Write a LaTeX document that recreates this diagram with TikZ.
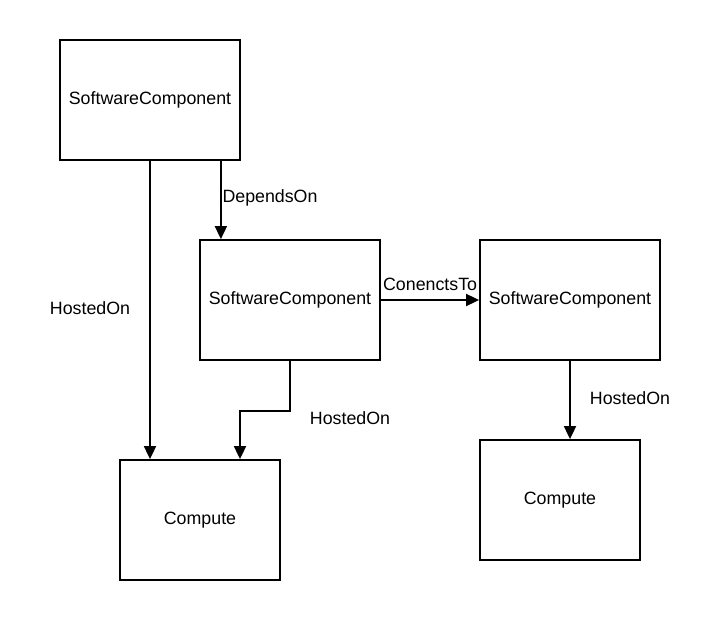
\documentclass[tikz,border=0pt]{standalone}
\usepackage{fontspec}
\setmainfont{Liberation Sans}
\usetikzlibrary{positioning, arrows.meta}
\tikzset{
  swc/.style={rectangle, draw=black, line width=1.8pt, fill=white,
    minimum width=180pt, minimum height=120pt, inner sep=2pt, font=\fontsize{17.8}{21}\selectfont},
  cmp/.style={swc, minimum width=160pt},
  lbl/.style={inner sep=0pt, font=\fontsize{17.8}{21}\selectfont},
  rel/.style={-{Triangle[length=13pt, width=12pt]}, line width=1.8pt, black},
}
\begin{document}
\begin{tikzpicture}[x=1pt, y=-1pt]
    \useasboundingbox (0,0) rectangle (720,620);
    \node[swc] (app) at (150,100) {SoftwareComponent};
    \node[swc] (svc) at (290,300) {SoftwareComponent};
    \node[swc] (db) at (570,300) {SoftwareComponent};
    \node[cmp] (hostL) at (200,520) {Compute};
    \node[cmp] (hostR) at (560,500) {Compute};
    % relation labels
    \node[lbl] (lblHostA) at (90,308) {HostedOn};
    \node[lbl] (lblDep) at (270,198) {DependsOn};
    \node[lbl, above=9pt of svc.east, anchor=south west, xshift=2pt] (lblConn) {ConenctsTo};
    \node[lbl] (lblHostB) at (350,418) {HostedOn};
    \node[lbl] (lblHostC) at (630,398) {HostedOn};
    \draw[rel] (app.south) -- (app.south |- hostL.north);
    \draw[rel] ([xshift=-20pt]app.south east) -- ([xshift=-20pt]app.south east |- svc.north);
    \draw[rel] (svc.east) -- (db.west);
    \draw[rel] (svc.south) -- ++(0,50) -| ([xshift=40pt]hostL.north);
    \draw[rel] (db.south) -- (db.south |- hostR.north);
  \end{tikzpicture}
\end{document}
